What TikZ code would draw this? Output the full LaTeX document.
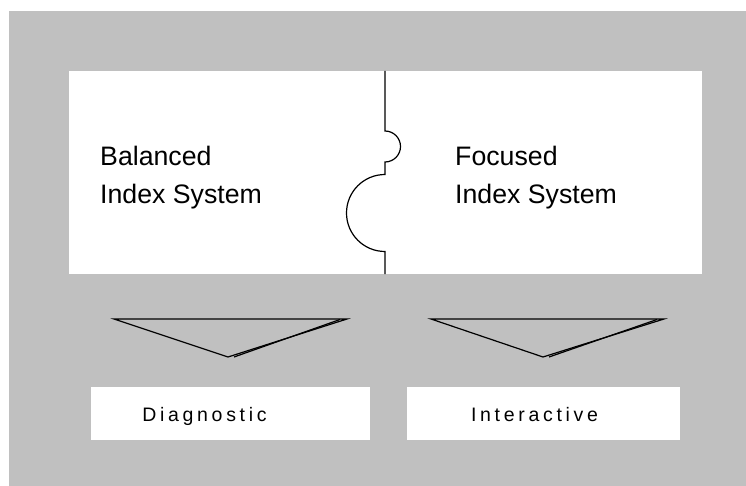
\documentclass[tikz,border=0pt]{standalone}
\usepackage{fontspec}
\setmainfont{Liberation Sans}
\definecolor{panelgray}{HTML}{C0C0C0}
\tikzset{
  bigtext/.style={inner sep=0pt, align=left, font=\fontsize{26.7}{38}\selectfont},
  tabbox/.style={fill=white, inner sep=0pt, minimum height=53pt},
  tabtext/.style={inner sep=0pt, anchor=base, font=\fontsize{19.5}{22}\selectfont\addfontfeature{LetterSpace=19}},
  edgeline/.style={line width=1.2pt, line join=miter}
}
\begin{document}
\begin{tikzpicture}[x=1pt,y=-1pt]
  \useasboundingbox (0,0) rectangle (746,486);
  \fill[panelgray] (9,11) rectangle (746,486);
  \fill[white] (69,71) rectangle (702,274);

  % puzzle cut between the two systems
  \draw[edgeline] (385,71) -- (385,131)
    arc[start angle=-90, end angle=90, radius=15.5] -- (385,174.5)
    arc[start angle=-90, end angle=-270, radius=38.5] -- (385,274);

  \node[bigtext, anchor=base west] (balanced) at (100,204) {Balanced\\Index System};
  \node[bigtext, anchor=base west] (focused)  at (455,204) {Focused\\Index System};

  % funnels
  \foreach \l/\r/\a in {114/347/228, 431/664/543} {
    \draw[edgeline] (\l,319) -- (\r,319) -- (\a,357) -- cycle;
    \draw[edgeline] (\a+6,357) -- (\r-7,319.5);
  }

  \node[tabbox, minimum width=279pt] (diag)  at (230.5,413.5) {};
  \node[tabbox, minimum width=273pt] (inter) at (543.5,413.5) {};
  \node[tabtext] (diagtext)  at ([xshift=-26pt,yshift=-7.5pt]diag.center)  {Diagnostic};
  \node[tabtext] (intertext) at ([xshift=-9pt,yshift=-7.5pt]inter.center) {Interactive};
\end{tikzpicture}
\end{document}
